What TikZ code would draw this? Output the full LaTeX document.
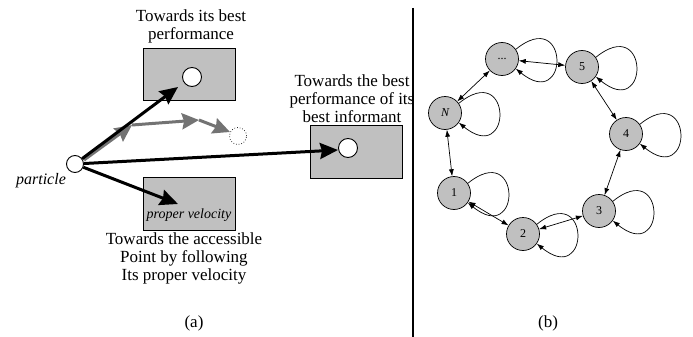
\documentclass[tikz,border=0pt]{standalone}
\usepackage{fontspec}
\setmainfont{Liberation Serif}
\usetikzlibrary{arrows.meta}
\definecolor{boxgray}{RGB}{192,192,192}
\definecolor{arrgray}{RGB}{115,115,115}
\definecolor{nodegray}{RGB}{192,192,192}
\tikzset{
  txt/.style={align=center,inner sep=0pt,font=\fontsize{17}{18}\selectfont},
  grbox/.style={draw,fill=boxgray,line width=0.9pt,inner sep=0pt},
  wdot/.style={circle,draw,fill=white,line width=0.9pt,minimum size=19pt,inner sep=0pt},
  bigarrow/.style={line width=3pt,-{Stealth[length=18pt,width=16pt,inset=2pt]}},
  grayarrow/.style={color=arrgray,line width=3pt,-{Stealth[length=17pt,width=16pt,inset=2pt]}},
  gnode/.style={circle,draw,fill=nodegray,line width=0.7pt,minimum size=33pt,inner sep=0pt,font=\fontsize{12}{12}\selectfont},
  gedge/.style={line width=0.7pt,{Latex[length=7pt,width=5pt]}-{Latex[length=7pt,width=5pt]}},
  gloop/.style={line width=0.7pt,-{Latex[length=7pt,width=5pt]}}
}
\begin{document}
\begin{tikzpicture}[x=1pt,y=1pt]
\useasboundingbox (0,0) rectangle (693,-337);
% ---------- (a) ----------
\node[grbox,minimum width=92pt,minimum height=52pt] (boxT) at (189,-74) {};
\node[wdot] (cT) at (192,-77) {};
\node[txt] (tT) at (191,-26) {Towards its best\\performance};

\node[grbox,minimum width=92pt,minimum height=53pt] (boxR) at (356,-151.5) {};
\node[wdot] (cR) at (348,-148) {};
\node[txt] (tR) at (352,-99) {Towards the best\\performance of its\\best informant};

\node[grbox,minimum width=92pt,minimum height=53pt] (boxB) at (189,-203.5) {};
\node[inner sep=0pt,font=\fontsize{14}{14}\selectfont\itshape] (pv) at (189,-215) {proper velocity};
\node[txt] (tB) at (184,-258) {Towards the accessible\\Point by following\\Its proper velocity};

\node[circle,draw,fill=white,line width=0.9pt,minimum size=17pt,inner sep=0pt] (p) at (75,-164) {};
\node[inner sep=0pt,font=\fontsize{16}{16}\selectfont\itshape] (pl) at (41,-181) {particle};

\node[circle,draw,dotted,line width=0.7pt,minimum size=17pt,inner sep=0pt] (ghost) at (238,-136) {};

\coordinate (g0) at (84,-160);
\coordinate (g1) at (132,-125);
\coordinate (g2) at (199,-120);
\coordinate (g3) at (230,-132);
\draw[grayarrow] (g0) -- (g1);
\draw[grayarrow] (g1) -- (g2);
\draw[grayarrow] (g2) -- (g3);

\coordinate (aT) at (178,-87);
\coordinate (aR) at (338,-150);
\coordinate (aB) at (178,-204);
\draw[bigarrow] (p) -- (aT);
\draw[bigarrow] (p) -- (aR);
\draw[bigarrow] (p) -- (aB);

\node[txt] (la) at (194,-323) {(a)};

% divider
\coordinate (v1) at (413,-8);
\coordinate (v2) at (413,-337);
\draw[line width=2pt] (v1) -- (v2);

% ---------- (b) ----------
\node[gnode] (nd) at (502,-59) {...};
\node[gnode] (n5) at (582,-67) {5};
\node[gnode] (nN) at (445,-113) {\itshape N};
\node[gnode] (n4) at (626,-134) {4};
\node[gnode] (n1) at (454,-193) {1};
\node[gnode] (n3) at (599,-211) {3};
\node[gnode] (n2) at (523,-234) {2};

\draw[gedge] (nd) -- (n5);
\draw[gedge] (n5) -- (n4);
\draw[gedge] (n4) -- (n3);
\draw[gedge] (n3) -- (n2);
\draw[gedge] (n2) -- (n1);
\draw[gedge] (n1) -- (nN);
\draw[gedge] (nN) -- (nd);

\foreach \n in {nd,n5,nN,n4,n1,n3,n2}{
  \draw[gloop] (\n.35) .. controls +(54,44) and +(54,-44) .. (\n.-35);
}

\node[txt] (lb) at (548,-323) {(b)};
\end{tikzpicture}
\end{document}
